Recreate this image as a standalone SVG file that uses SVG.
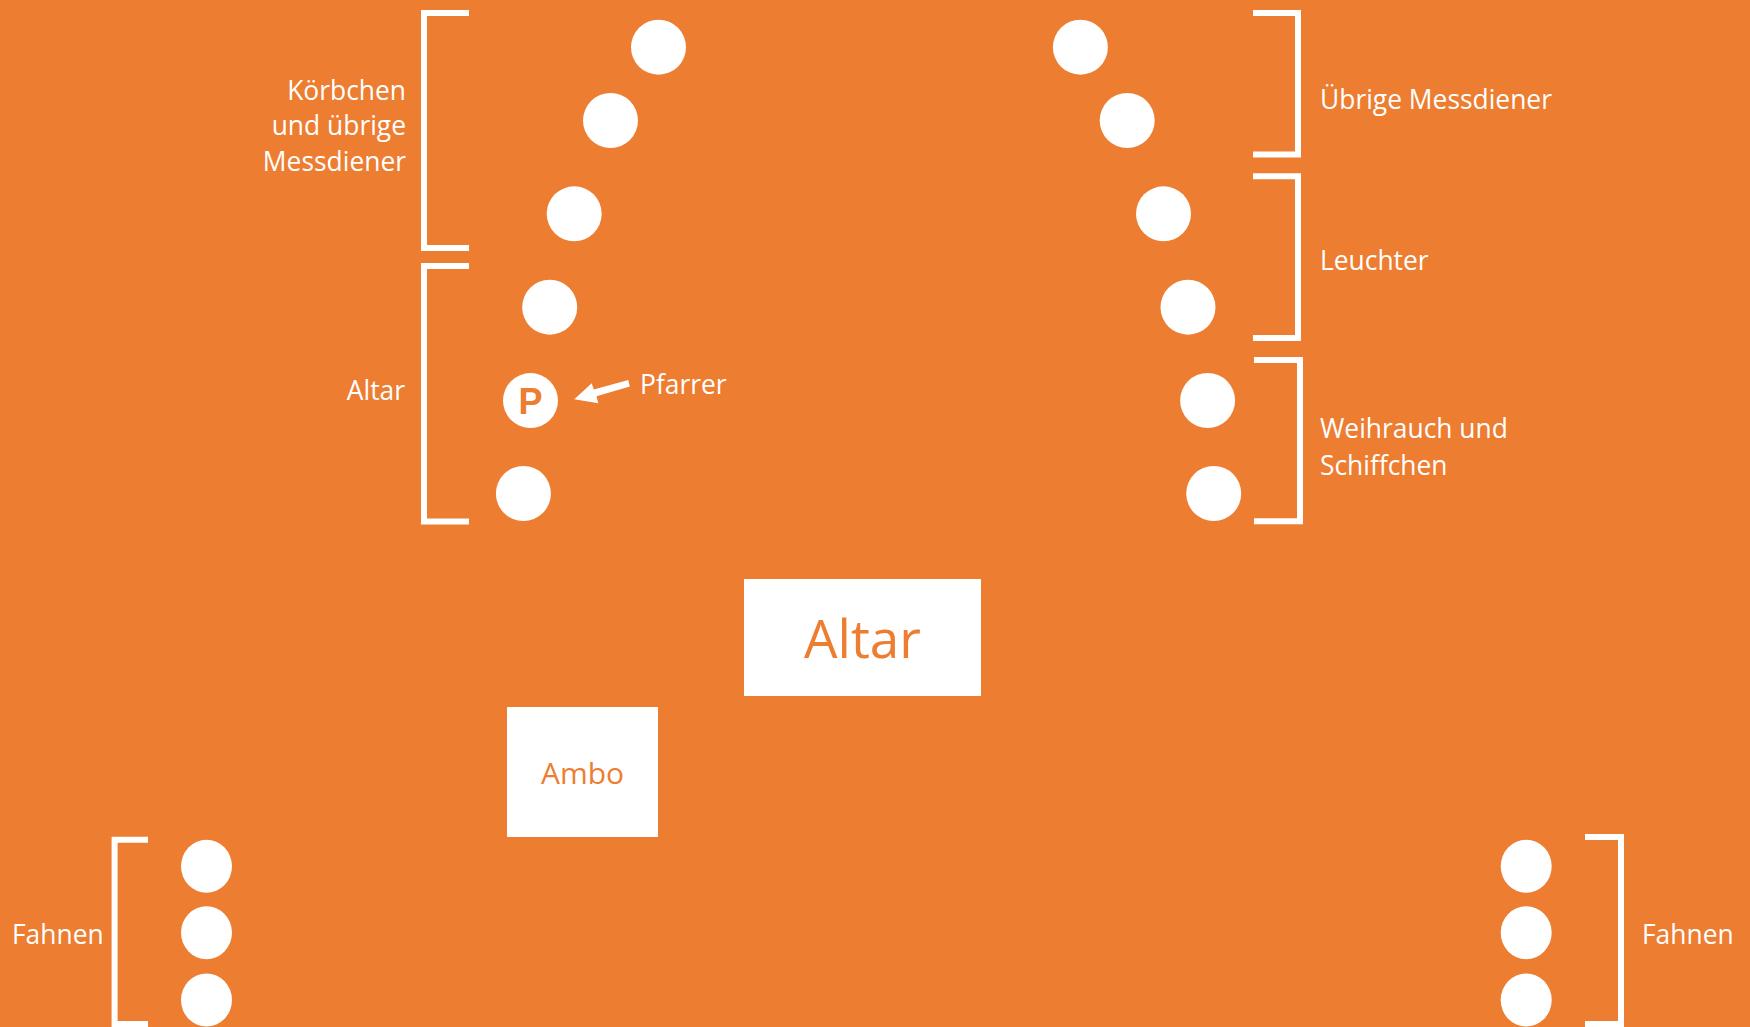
<svg xmlns="http://www.w3.org/2000/svg" width="1750" height="1027" viewBox="0 0 1750 1027">
<style>
.bg{fill:#ED7D31}
.dot{fill:#FFFFFF}
.br{fill:none;stroke:#FFFFFF;stroke-width:6;stroke-linejoin:miter}
.lbl{font-family:"Open Sans","Liberation Sans",sans-serif;font-size:26.4px;fill:#FFFFFF}
.box{fill:#FFFFFF}
.boxt{font-family:"Open Sans","Liberation Sans",sans-serif;fill:#ED7D31;text-anchor:middle}
</style>
<rect class="bg" x="0" y="0" width="1750" height="1027"/>

<g id="bracket-koerbchen"><path class="br" d="M469,13 H424 V248 H469"/>
<text class="lbl" x="406" y="100" text-anchor="end">Körbchen</text>
<text class="lbl" x="406" y="135" text-anchor="end">und übrige</text>
<text class="lbl" x="406" y="171" text-anchor="end">Messdiener</text></g>

<g id="bracket-altar"><path class="br" d="M469,266 H424 V521.5 H469"/>
<text class="lbl" x="405" y="400" text-anchor="end">Altar</text></g>

<g id="bracket-uebrige"><path class="br" d="M1253,13 H1298 V154.5 H1253"/>
<text class="lbl" x="1320" y="109">Übrige Messdiener</text></g>

<g id="bracket-leuchter"><path class="br" d="M1253,176.3 H1298 V338 H1253"/>
<text class="lbl" x="1320" y="270">Leuchter</text></g>

<g id="bracket-weihrauch"><path class="br" d="M1254,360 H1300 V521.3 H1254"/>
<text class="lbl" x="1320" y="438">Weihrauch und</text>
<text class="lbl" x="1320" y="475">Schiffchen</text></g>

<g id="left-row">
<circle class="dot" cx="658.5" cy="47.2" r="27.5"/>
<circle class="dot" cx="610.5" cy="120.5" r="27.5"/>
<circle class="dot" cx="574.2" cy="213.8" r="27.5"/>
<circle class="dot" cx="549.7" cy="307.2" r="27.5"/>
<circle class="dot" cx="523.4" cy="493.5" r="27.5"/>
</g>

<g id="pfarrer">
<circle class="dot" cx="530.5" cy="400.6" r="27.5"/>
<text x="530.5" y="413.5" text-anchor="middle" style="font-family:'Liberation Sans',Arial,sans-serif;font-weight:bold;font-size:36px;fill:#ED7D31">P</text>
<text class="lbl" x="640" y="393.5">Pfarrer</text>
</g>

<g id="right-row">
<circle class="dot" cx="1080.4" cy="47.2" r="27.5"/>
<circle class="dot" cx="1127.2" cy="120.5" r="27.5"/>
<circle class="dot" cx="1163.5" cy="213.8" r="27.5"/>
<circle class="dot" cx="1188" cy="307.2" r="27.5"/>
<circle class="dot" cx="1207.6" cy="400.5" r="27.5"/>
<circle class="dot" cx="1213.7" cy="493.5" r="27.5"/>
</g>

<g id="altar-box">
<rect class="box" x="744" y="579" width="237" height="117"/>
<text class="boxt" x="862.5" y="657.5" style="font-size:53px">Altar</text>
</g>

<g id="ambo-box">
<rect class="box" x="507" y="707" width="151" height="130"/>
<text class="boxt" x="582.5" y="784" style="font-size:30px">Ambo</text>
</g>

<g id="fahnen-left"><path class="br" d="M148,839.7 H114.6 V1024 H148"/>
<text class="lbl" x="12" y="944">Fahnen</text>
<ellipse class="dot" cx="206.5" cy="866.3" rx="25.5" ry="26.5"/>
<ellipse class="dot" cx="206.5" cy="932.7" rx="25.5" ry="26.5"/>
<ellipse class="dot" cx="206.5" cy="1000" rx="25.5" ry="26.5"/>
</g>

<g id="fahnen-right"><path class="br" d="M1585,837 H1621 V1024 H1585"/>
<text class="lbl" x="1642" y="944">Fahnen</text>
<ellipse class="dot" cx="1526.2" cy="866.3" rx="25.5" ry="26.5"/>
<ellipse class="dot" cx="1526.2" cy="932.7" rx="25.5" ry="26.5"/>
<ellipse class="dot" cx="1526.2" cy="1000" rx="25.5" ry="26.5"/>
</g>

<g id="connectors">
<polygon fill="#FFFFFF" points="628.3,380 629.8,386.5 596.5,396.3 598.3,403.3 574.3,399.3 591.7,383.3 593.8,389.6"/>
</g>
</svg>
